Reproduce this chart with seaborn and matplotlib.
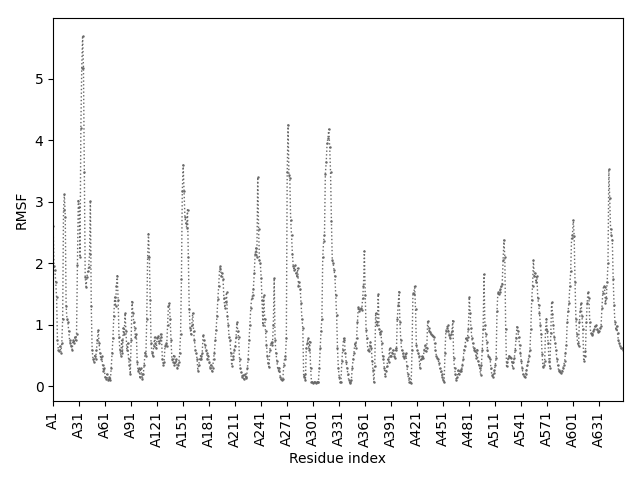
import matplotlib
matplotlib.use('Agg')
import matplotlib.pyplot as plt
import seaborn as sns

# RMSF per residue (rows of 10 residues)
rmsf = [
    2.61, 1.95, 1.9, 1.7, 1.45, 0.75, 0.6, 0.58, 0.65, 0.55,
    0.7, 1.1, 2.87, 3.12, 2.76, 1.3, 1.1, 1.05, 0.9, 0.75,
    0.7, 0.65, 0.6, 0.75, 0.7, 0.8, 0.75, 0.85, 1.98, 3.02,
    2.92, 2.1, 4.2, 5.17, 5.7, 5.17, 3.48, 1.78, 1.62, 1.78,
    1.88, 1.94, 2.15, 3.02, 1.3, 0.6, 0.45, 0.4, 0.5, 0.45,
    0.6, 0.75, 0.92, 0.7, 0.55, 0.45, 0.5, 0.35, 0.25, 0.3,
    0.15, 0.12, 0.2, 0.1, 0.12, 0.15, 0.1, 0.3, 0.55, 0.78,
    1.15, 1.45, 1.3, 1.63, 1.8, 1.4, 0.8, 0.6, 0.5, 0.75,
    0.55, 0.95, 0.85, 1.19, 0.9, 0.6, 0.7, 0.45, 0.35, 0.2,
    0.75, 1.38, 1.2, 1.05, 0.95, 0.8, 0.85, 0.4, 0.25, 0.3,
    0.15, 0.3, 0.2, 0.12, 0.2, 0.35, 0.55, 0.5, 1.1, 2.1,
    2.48, 2.1, 1.4, 0.7, 0.55, 0.5, 0.65, 0.8, 0.7, 0.62,
    0.78, 0.82, 0.7, 0.75, 0.85, 0.8, 0.45, 0.35, 0.4, 0.65,
    0.7, 0.65, 1.0, 1.3, 1.36, 1.1, 0.75, 0.45, 0.4, 0.5,
    0.35, 0.4, 0.45, 0.3, 0.35, 0.4, 0.55, 0.85, 1.74, 3.17,
    3.6, 3.17, 2.76, 2.66, 2.58, 2.87, 2.1, 1.26, 0.95, 0.85,
    1.0, 1.2, 0.9, 0.75, 0.6, 0.55, 0.45, 0.25, 0.35, 0.45,
    0.5, 0.45, 0.55, 0.84, 0.75, 0.67, 0.6, 0.55, 0.45, 0.5,
    0.4, 0.3, 0.35, 0.25, 0.3, 0.45, 0.55, 0.75, 0.92, 1.15,
    1.42, 1.64, 1.91, 1.95, 1.79, 1.84, 1.74, 1.43, 1.28, 1.38,
    1.53, 1.15, 1.0, 0.8, 0.75, 0.55, 0.34, 0.45, 0.5, 0.6,
    0.65, 0.8, 1.04, 0.9, 0.8, 0.45, 0.3, 0.23, 0.15, 0.18,
    0.12, 0.2, 0.15, 0.13, 0.3, 0.45, 0.75, 1.0, 1.28, 1.43,
    1.48, 1.59, 1.84, 2.15, 2.25, 2.1, 3.4, 2.56, 2.05, 2.0,
    1.77, 1.4, 1.0, 1.48, 1.1, 0.9, 0.68, 0.5, 0.38, 0.32,
    0.6, 0.7, 0.72, 0.68, 1.0, 1.76, 0.75, 0.55, 0.42, 0.3,
    0.25, 0.3, 0.15, 0.12, 0.1, 0.12, 0.35, 0.45, 0.5, 0.78,
    3.48, 4.25, 3.43, 3.38, 2.71, 2.46, 2.15, 1.95, 1.89, 1.97,
    1.84, 1.79, 1.93, 1.64, 1.69, 1.59, 1.35, 1.1, 0.95, 0.15,
    0.2, 0.1, 0.62, 0.7, 0.78, 0.6, 0.73, 0.3, 0.08, 0.07,
    0.06, 0.08, 0.07, 0.06, 0.08, 0.07, 0.08, 0.3, 0.62, 0.9,
    1.1, 2.1, 2.36, 2.46, 3.46, 3.64, 3.95, 4.04, 4.18, 3.89,
    3.48, 2.69, 2.05, 2.0, 1.89, 1.79, 1.48, 1.16, 0.62, 0.3,
    0.15, 0.07, 0.08, 0.41, 0.6, 0.78, 0.75, 0.55, 0.4, 0.3,
    0.2, 0.1, 0.07, 0.05, 0.1, 0.3, 0.44, 0.55, 0.7, 0.63,
    0.78, 1.05, 1.29, 1.23, 1.26, 1.28, 1.25, 1.43, 1.64, 2.2,
    1.48, 0.92, 0.78, 0.6, 0.57, 0.65, 0.72, 0.62, 0.42, 0.26,
    0.07, 0.34, 1.2, 1.0, 1.05, 1.5, 0.94, 0.85, 0.9, 0.71,
    0.5, 0.44, 0.3, 0.17, 0.25, 0.33, 0.44, 0.4, 0.63, 0.5,
    0.5, 0.55, 0.6, 0.5, 0.47, 0.63, 0.6, 1.1, 1.33, 1.54,
    1.05, 0.76, 0.6, 0.55, 0.5, 0.47, 0.5, 0.55, 0.34, 0.2,
    0.13, 0.07, 0.07, 0.06, 0.6, 1.52, 1.5, 1.64, 1.26, 0.67,
    0.6, 0.55, 0.5, 0.3, 0.45, 0.47, 0.5, 0.47, 0.6, 0.67,
    0.57, 0.62, 1.07, 0.95, 0.9, 0.88, 0.85, 0.84, 0.82, 0.8,
    0.7, 0.6, 0.5, 0.47, 0.44, 0.38, 0.3, 0.25, 0.2, 0.15,
    0.1, 0.07, 0.55, 0.9, 0.95, 1.0, 0.9, 0.84, 0.78, 0.85,
    0.9, 1.07, 0.47, 0.3, 0.2, 0.1, 0.15, 0.26, 0.2, 0.25,
    0.28, 0.25, 0.35, 0.44, 0.6, 0.65, 0.78, 0.75, 0.8, 0.94,
    1.45, 1.2, 0.95, 0.78, 0.7, 0.6, 0.62, 0.57, 0.47, 0.6,
    0.42, 0.35, 0.3, 0.19, 0.35, 0.6, 0.94, 1.82, 1.0, 0.85,
    0.73, 0.6, 0.5, 0.48, 0.44, 0.3, 0.19, 0.15, 0.22, 0.26,
    0.35, 0.47, 1.23, 1.53, 1.5, 1.54, 1.58, 1.64, 1.67, 2.05,
    2.38, 2.1, 0.94, 0.33, 0.4, 0.47, 0.5, 0.48, 0.47, 0.4,
    0.3, 0.4, 0.47, 0.6, 0.78, 0.97, 0.9, 0.8, 0.67, 0.55,
    0.42, 0.3, 0.2, 0.17, 0.15, 0.2, 0.26, 0.35, 0.42, 0.5,
    0.6, 0.94, 1.4, 1.64, 2.05, 1.79, 1.84, 1.69, 1.79, 1.44,
    1.33, 1.2, 1.0, 0.85, 0.52, 0.32, 0.35, 0.41, 0.94, 1.1,
    0.9, 0.7, 0.41, 0.3, 0.87, 1.38, 1.18, 1.0, 0.8, 0.7,
    0.6, 0.45, 0.35, 0.27, 0.25, 0.23, 0.22, 0.25, 0.3, 0.35,
    0.41, 0.55, 0.68, 1.05, 1.23, 1.36, 1.64, 1.88, 2.41, 2.46,
    2.71, 2.44, 1.69, 1.1, 0.85, 0.7, 0.65, 1.05, 1.23, 1.36,
    1.15, 0.93, 0.41, 0.5, 0.57, 1.05, 1.36, 1.54, 1.43, 1.05,
    0.87, 0.85, 0.83, 0.9, 0.94, 0.98, 1.0, 0.93, 0.9, 0.88,
    0.9, 0.95, 0.98, 1.27, 1.52, 1.64, 1.62, 1.36, 1.43, 1.69,
    2.0, 3.53, 3.07, 2.56, 2.46, 2.38, 1.74, 1.33, 1.05, 0.94,
    0.98, 0.87, 0.75, 0.7, 0.65, 0.62, 0.62, 0.6,
]

residue_idx = list(range(len(rmsf)))
tick_pos = list(range(0, len(rmsf), 30))
tick_labels = ['A%d' % (p + 1) for p in tick_pos]

fig, ax = plt.subplots(figsize=(6.4, 4.8), dpi=100)
sns.lineplot(x=residue_idx, y=rmsf, ax=ax, color='dimgray',
             linestyle=':', linewidth=1, marker='.', markersize=3.5,
             markeredgewidth=0)

ax.set_xlim(0, len(rmsf) - 1)
ax.set_xticks(tick_pos)
ax.set_xticklabels(tick_labels, rotation=90)
ax.set_xlabel('Residue index')
ax.set_ylabel('RMSF')

fig.subplots_adjust(left=0.083, right=0.973, bottom=0.165, top=0.962)
plt.savefig('out.png')
